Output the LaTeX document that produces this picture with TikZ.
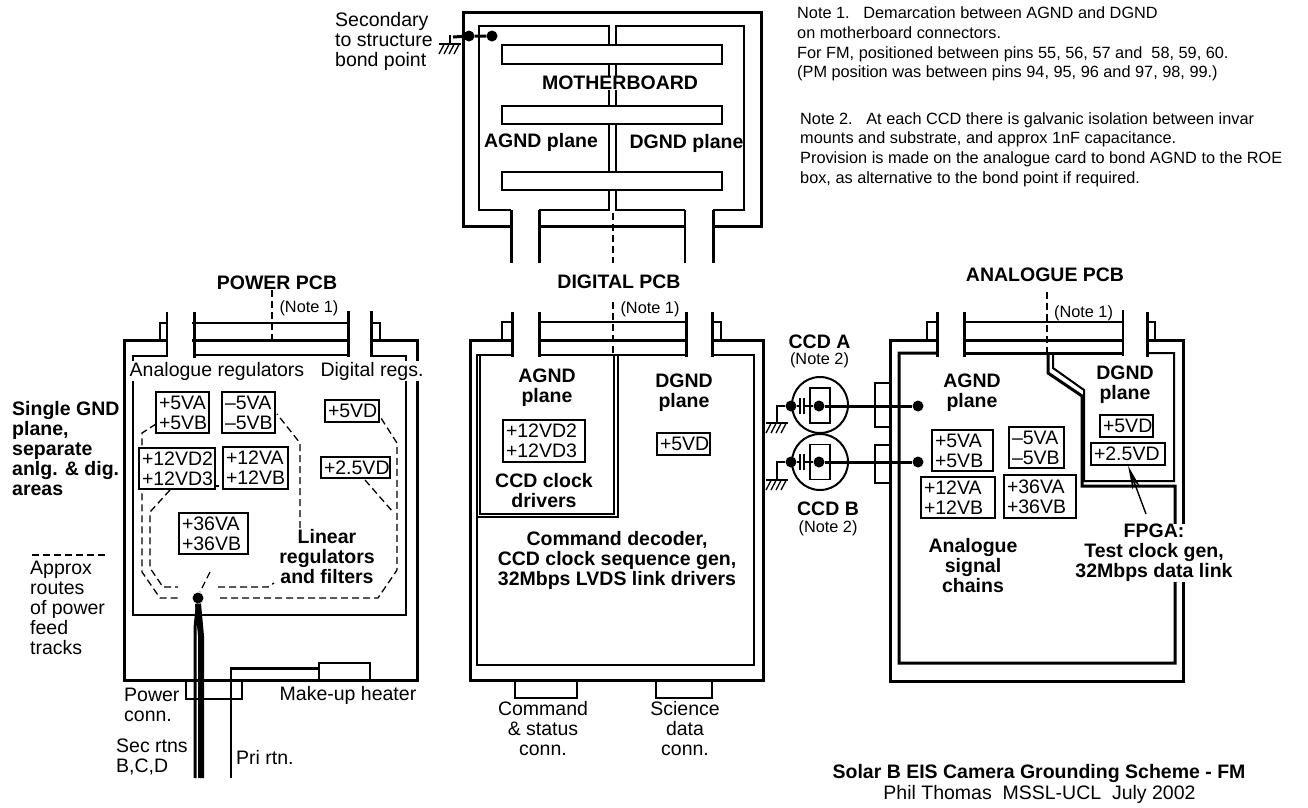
\documentclass[tikz,border=0pt]{standalone}
\usepackage{fontspec}
\setmainfont{Liberation Sans}
\usetikzlibrary{arrows.meta}
\tikzset{
  thinl/.style={line width=1.4pt},
  midl/.style={line width=2pt},
  thickl/.style={line width=3pt},
  route/.style={line width=1.3pt, dash pattern=on 7pt off 4pt},
  lab/.style={font=\fontsize{19.5}{20}\selectfont, inner sep=0pt, align=center},
  blab/.style={lab, font=\fontsize{19.5}{20}\selectfont\bfseries},
  leftlab/.style={lab, align=left, anchor=west},
  noterefl/.style={lab, font=\fontsize{16.3}{16}\selectfont},
  notel/.style={lab, align=left, anchor=north west, font=\fontsize{16.3}{19.8}\selectfont},
  railbox/.style 2 args={draw, thinl, fill=white, inner sep=0pt, align=left, text width={(#1-6)*1pt},
    font=\fontsize{19.5}{20}\selectfont, minimum width=#1, minimum height=#2},
  dotn/.style={fill, circle, inner sep=0pt, minimum size=11pt},
  pics/gndmark/.style={code={
    \draw[thinl] (-11,0) -- (11,0);
    \foreach \hx in {-6,-1,4,9}{
      \draw[line width=1.3pt] (\hx,0.5) -- (\hx-5,10);
    }
  }}
}
\begin{document}
\begin{tikzpicture}[x=1pt,y=-1pt]
  \useasboundingbox (0,0) rectangle (1308,807);

  % power feed routes
  \draw[route] (156,424) -- (142,433) -- (142,572) -- (160,598) -- (178,598);
  \draw[route] (220,598) -- (378,598) -- (397,570) -- (397,443) -- (379,415);
  \draw[route] (170,490) -- (150,512) -- (150,568) -- (163,587) -- (178,587);
  \draw[route] (218,587) -- (268,587) -- (274,583);
  \draw[route] (300,528) -- (300,443) -- (277,414);
  \draw[route] (365,480) -- (393,512);
  \draw[route] (210,572) -- (200,592);
  \draw[thinl] (215,486) -- (219,486);
  \draw[route] (32,555) -- (105,555);

  % power pcb
  \draw[thickl] (167,340) -- (124,340) -- (124,680) -- (417,680) -- (417,340) -- (371,340);
  \draw[thickl] (192,340) -- (348,340);
  \draw[thinl] (167,312) -- (167,357);
  \draw[thickl] (194,312) -- (194,358);
  \draw[thickl] (348,311) -- (348,357);
  \draw[thickl] (371,311) -- (371,357);
  \draw[thinl] (167,323) -- (160,323) -- (160,340);
  \draw[thinl] (371,323) -- (380,323) -- (380,340);
  \draw[thinl] (192,323) -- (348,323);
  \draw[thinl] (194,355) -- (348,355);
  \draw[thinl] (167,356) -- (133,356) -- (133,615) -- (406,615) -- (406,356) -- (371,356);
  \draw[route] (272,290) -- (272,343);

  \node[lab, fill=white, minimum height=20pt] (analogreg) at (217,371) {Analogue regulators};
  \node[lab, fill=white, minimum height=20pt] (digitalreg) at (372,371) {Digital regs.};
  \node[railbox={53}{41}] (pa) at (182.5,412.5) {+5VA\\+5VB};
  \node[railbox={53}{41}] (pb) at (248.5,412.5) {\mbox{–5VA}\\\mbox{–5VB}};
  \node[railbox={54}{22}] (pc) at (352,411) {+5VD};
  \node[railbox={76}{41}] (pd) at (177,468.5) {+12VD2\\+12VD3};
  \node[railbox={65}{42}] (pe) at (255.5,468) {+12VA\\+12VB};
  \node[railbox={69}{21}] (pf) at (355.5,467.5) {+2.5VD};
  \node[railbox={69}{41}] (pg) at (213.5,533.5) {+36VA\\+36VB};

  \node[blab] (powertitle) at (277,283) {POWER PCB};
  \node[noterefl] (powernote) at (309,308) {(Note 1)};
  \node[blab, align=left, anchor=west] (singlegnd) at (12,448.5) {Single GND\\plane,\\separate\\anlg. \& dig.\\areas};
  \node[lab, align=left, anchor=west] (routes) at (30,608) {Approx\\routes\\of power\\feed\\tracks};
  \node[blab] (linear) at (327,557) {Linear\\regulators\\and filters};

  % star point and return wires
  \node[dotn] (star) at (198,598) {};
  \coordinate (secend) at (200,778);
  \draw[thickl] (star) -- (195,628) -- (195,778);
  \draw[line width=6pt] (star.south) -- (201,636) -- (201,778);
  \draw[thinl] (186,680) -- (186,699) -- (242,699) -- (242,680);
  \draw[thinl] (319,680) -- (319,663) -- (370,663) -- (370,680);
  \draw[line width=3pt] (320,668) -- (230.5,668);
  \draw[midl] (230.5,667) -- (230.5,778);

  \node[leftlab] (powerconn) at (124,705) {Power\\conn.};
  \node[lab] (heater) at (348,695) {Make-up heater};
  \node[leftlab] (secrtn) at (116,756.5) {Sec rtns\\B,C,D};
  \node[leftlab] (prirtn) at (236,757) {Pri rtn.};

  % motherboard
  \draw[thickl] (511,226) -- (463,226) -- (463,12) -- (761,12) -- (761,226) -- (713,226);
  \draw[thickl] (539,226) -- (685,226);
  \draw[thickl] (511,210) -- (511,263);
  \draw[thickl] (539,210) -- (539,263);
  \draw[midl] (685,210) -- (685,263);
  \draw[thickl] (713,210) -- (713,263);
  \draw[thinl] (511,210) -- (479,210) -- (479,26) -- (609,26) -- (609,210) -- (539,210);
  \draw[thinl] (685,210) -- (616,210) -- (616,26) -- (744,26) -- (744,210) -- (713,210);
  \draw[route] (613,213) -- (613,263);
  \foreach \sy/\sh in {54.5/19,115/18,181/18}{
    \node[draw, thinl, fill=white, minimum width=220pt, minimum height=\sh pt, inner sep=0pt] at (612,\sy) {};
  }
  \node[blab, fill=white] (mbtitle) at (620,83) {MOTHERBOARD};
  \node[blab] (mbagnd) at (541,142) {AGND plane};
  \node[blab] (mbdgnd) at (686.5,143) {DGND plane};
  \node[leftlab] (bondlab) at (335,41) {Secondary\\to structure\\bond point};
  \node[dotn] (bonda) at (469,36) {};
  \node[dotn] (bondb) at (492,36) {};
  \coordinate (bondstub) at (453,37);
  \draw[thickl] (bondstub) -- (bonda) -- (bondb);
  \draw[thinl] (450,35) -- (450,44);
  \pic at (450,44) {gndmark};

  % digital pcb
  \draw[thickl] (512,340) -- (470,340) -- (470,680) -- (763,680) -- (763,340) -- (712,340);
  \draw[thickl] (539,340) -- (686,340);
  \foreach \vx in {512,539,686,712}{
    \draw[thickl] (\vx,312) -- (\vx,357);
  }
  \draw[thinl] (512,322) -- (502,322) -- (502,340);
  \draw[thinl] (712,322) -- (721,322) -- (721,340);
  \draw[thinl] (539,322) -- (686,322);
  \draw[thinl] (539,355) -- (686,355);
  \draw[thinl] (512,355) -- (477,355) -- (477,665) -- (754,665) -- (754,355) -- (712,355);
  \draw[midl] (479.5,355) -- (479.5,514) -- (614,514) -- (614,355);
  \draw[midl] (477,517) -- (618,517) -- (618,355);
  \draw[route] (613,302) -- (613,355);
  \draw[thinl] (515,680) -- (515,698) -- (577,698) -- (577,680);
  \draw[thinl] (656,680) -- (656,698) -- (712,698) -- (712,680);

  \node[blab] (digtitle) at (619,282) {DIGITAL PCB};
  \node[noterefl] (dignote) at (650,309) {(Note 1)};
  \node[blab] (digagnd) at (547,388) {AGND\\plane};
  \node[blab] (digdgnd) at (684,393) {DGND\\plane};
  \node[railbox={82}{42}] (da) at (544,441) {+12VD2\\+12VD3};
  \node[railbox={53}{22}] (db) at (683.5,444) {+5VD};
  \node[blab] (clockdrv) at (544,490.5) {CCD clock\\drivers};
  \node[blab] (cmddec) at (617,560) {Command decoder,\\CCD clock sequence gen,\\32Mbps LVDS link drivers};
  \node[lab] (cmdconn) at (543,729) {Command\\\& status\\conn.};
  \node[lab] (sciconn) at (685,729) {Science\\data\\conn.};

  % ccd packages
  \foreach \cname/\cy/\wy/\gy/\ry in {a/405/406/423/405.5,b/462/462/480/462}{
    \draw[midl] (820,\cy) circle (28);
    \draw[thinl] (810,\ry-17.5) rectangle (830,\ry+17.5);
    \node[dotn] (ccdl\cname) at (791,\wy) {};
    \node[dotn] (ccdr\cname) at (819,\wy) {};
    \node[dotn] (pcbd\cname) at (918,\wy) {};
    \draw[thinl] (ccdl\cname) -- (800,\wy);
    \draw[thinl] (804,\wy) -- (ccdr\cname);
    \draw[midl] (800,\wy-8) -- (800,\wy+8);
    \draw[midl] (804,\wy-8) -- (804,\wy+8);
    \draw[thickl] (ccdr\cname) -- (pcbd\cname);
    \draw[midl] (ccdl\cname) -- (777,\wy) -- (777,\gy);
    \pic at (777,\gy) {gndmark};
  }
  \draw[thinl] (889,383) -- (875,383) -- (875,427) -- (889,427);
  \draw[thinl] (889,445) -- (875,445) -- (875,483) -- (889,483);
  \node[blab] (ccdatitle) at (819.5,342) {CCD A};
  \node[noterefl] (ccdanote) at (819.5,360) {(Note 2)};
  \node[blab] (ccdbtitle) at (828,509) {CCD B};
  \node[noterefl] (ccdbnote) at (828,528) {(Note 2)};

  % analogue pcb
  \draw[thickl] (937,340) -- (890,340) -- (890,681) -- (1183,681) -- (1183,340) -- (1147,340);
  \draw[thickl] (964,340) -- (1123,340);
  \foreach \vx in {937,964,1147}{
    \draw[thickl] (\vx,312) -- (\vx,357);
  }
  \draw[thinl] (1123,310) -- (1123,356);
  \draw[thinl] (937,322) -- (927,322) -- (927,340);
  \draw[thinl] (1147,322) -- (1155,322) -- (1155,340);
  \draw[thinl] (964,322) -- (1123,322);
  \draw[thickl] (937,353) -- (899,353) -- (899,663) -- (1175,663) -- (1175,486) -- (1082,486)
    -- (1082,396) -- (1048,373) -- (1048,353);
  \draw[thickl] (964,353) -- (1123,353);
  \draw[midl] (1147,353) -- (1174,353) -- (1174,481) -- (1084,481) -- (1084,390) -- (1053,368) -- (1053,353);
  \draw[route] (1047,292) -- (1047,355);

  \node[blab] (angtitle) at (1045,275) {ANALOGUE PCB};
  \node[noterefl] (angnote) at (1083.5,313) {(Note 1)};
  \node[blab] (angagnd) at (972,393) {AGND\\plane};
  \node[blab] (angdgnd) at (1125,384.5) {DGND\\plane};
  \node[railbox={53}{22}] (aa) at (1126.5,426) {+5VD};
  \node[railbox={74}{22}] (ab) at (1128,454) {+2.5VD};
  \node[railbox={61}{41}] (ac) at (962.5,450.5) {+5VA\\+5VB};
  \node[railbox={55}{41}] (ad) at (1036.5,447.5) {\mbox{–5VA}\\\mbox{–5VB}};
  \node[railbox={74}{41}] (ae) at (958,497.5) {+12VA\\+12VB};
  \node[railbox={72}{43}] (af) at (1040,496.5) {+36VA\\+36VB};
  \node[blab] (analogchain) at (973,565.5) {Analogue\\signal\\chains};
  \node[blab, fill=white] (fpga) at (1154,553) {FPGA:\\Test clock gen,\\32Mbps data link};
  \coordinate (fpgaarrow) at (1146,514);
  \draw[-{Stealth[length=24pt,width=8pt]}, thinl] (fpgaarrow) -- (ab.south);

  % notes and title
  \node[notel] (noteone) at (797,6.5) {Note 1.~~~Demarcation between AGND and DGND\\on motherboard connectors.\\For FM, positioned between pins 55, 56, 57 and~~58, 59, 60.\\(PM position was between pins 94, 95, 96 and 97, 98, 99.)};
  \node[notel] (notetwo) at (800,112) {Note 2.~~~At each CCD there is galvanic isolation between invar\\mounts and substrate, and approx 1nF capacitance.\\Provision is made on the analogue card to bond AGND to the ROE\\box, as alternative to the bond point if required.};
  \node[blab] (drawtitle) at (1039,773) {Solar B EIS Camera Grounding Scheme - FM};
  \node[lab] (author) at (1039.5,794) {Phil Thomas~~MSSL-UCL~~July 2002};
\end{tikzpicture}
\end{document}
